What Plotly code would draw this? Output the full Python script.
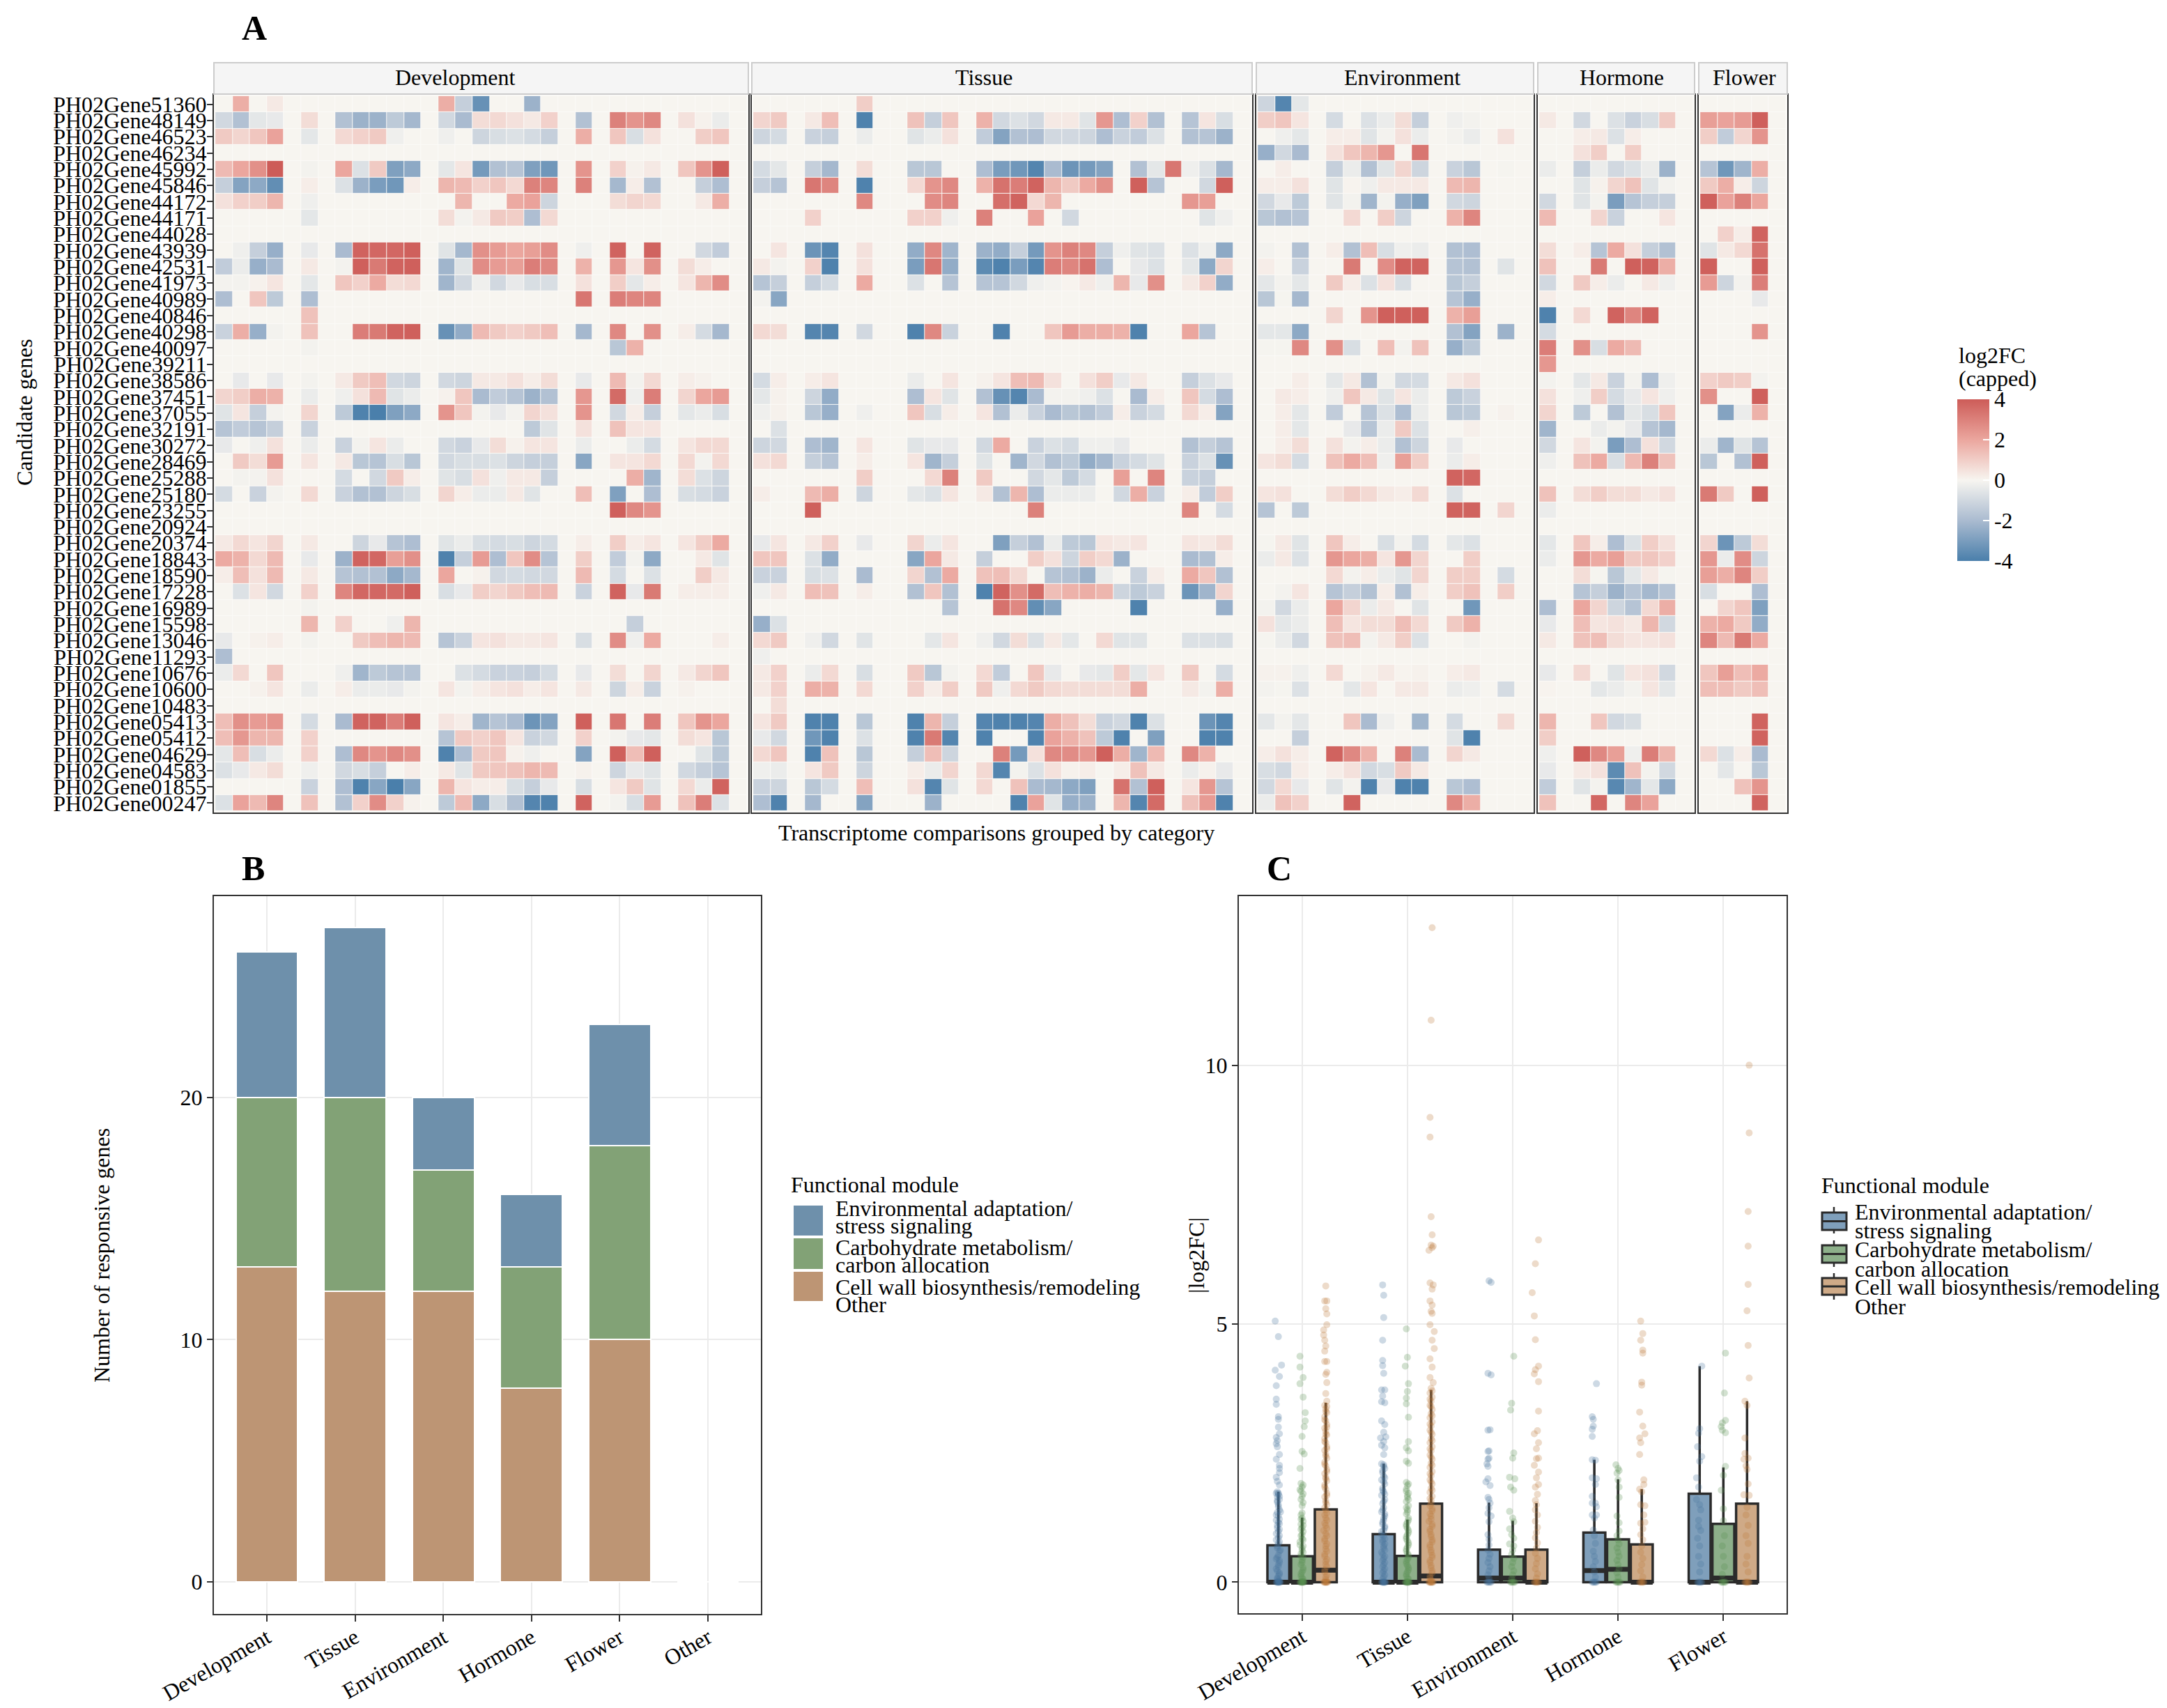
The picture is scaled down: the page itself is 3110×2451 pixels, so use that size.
import plotly.graph_objects as go

W = 3110
H = 2451
FONT = "Liberation Serif"

genes = ["PH02Gene51360", "PH02Gene48149", "PH02Gene46523", "PH02Gene46234", "PH02Gene45992", "PH02Gene45846",
         "PH02Gene44172", "PH02Gene44171", "PH02Gene44028", "PH02Gene43939", "PH02Gene42531", "PH02Gene41973",
         "PH02Gene40989", "PH02Gene40846", "PH02Gene40298", "PH02Gene40097", "PH02Gene39211", "PH02Gene38586",
         "PH02Gene37451", "PH02Gene37055", "PH02Gene32191", "PH02Gene30272", "PH02Gene28469", "PH02Gene25288",
         "PH02Gene25180", "PH02Gene23255", "PH02Gene20924", "PH02Gene20374", "PH02Gene18843", "PH02Gene18590",
         "PH02Gene17228", "PH02Gene16989", "PH02Gene15598", "PH02Gene13046", "PH02Gene11293", "PH02Gene10676",
         "PH02Gene10600", "PH02Gene10483", "PH02Gene05413", "PH02Gene05412", "PH02Gene04629", "PH02Gene04583",
         "PH02Gene01855", "PH02Gene00247"]

# log2FC per gene, only the non zero comparisons: {column: value}
development = [
    {1:1.8,3:.3,13:1.8,14:-1.3,15:-3.4,18:-2.3},
    {0:-1,1:-1.8,2:-.5,3:-.4,5:.6,7:-1.8,8:-2.3,9:-2.3,10:-1.5,11:-2.1,13:-1,14:-2,15:.6,16:.7,17:.5,18:.3,19:.9,21:-1.8,23:3,24:2.5,25:2.8,27:.5,28:.1,29:-.3},
    {0:1.1,1:.8,2:1.2,3:2.1,5:-.5,7:.7,8:.9,9:1.1,10:-.2,13:-.2,15:-1.1,16:-.8,17:-.7,18:-.9,19:-1.3,21:1.8,23:1.2,24:-.8,25:.5,28:1,29:1.2},
    {},
    {0:1.5,1:2,2:2.6,3:4,5:-.1,7:2,8:-.7,9:1.1,10:-2.9,11:-2.6,13:-.5,14:.4,15:-3.1,16:-1.8,17:-1.7,18:-2.9,19:-3.2,21:2.5,23:.9,24:.1,25:.3,27:1.2,28:2.5,29:3.9},
    {0:-1.3,1:-2.8,2:-2.6,3:-3.5,5:.2,7:-.7,8:-2.3,9:-3,10:-3.2,11:.2,13:1.6,14:1.5,15:.9,16:1.2,17:.7,18:3,19:2.9,21:3,23:-2.1,24:.2,25:-1.8,28:-1.3,29:-1.9},
    {0:.5,1:.9,2:1,3:1.6,5:-.2,14:1.6,17:1.9,18:2.1,19:-1.1,23:.6,24:.8,25:.7,28:.3,29:1.8},
    {5:-.5,13:.6,14:-.1,15:.3,16:1.1,17:1,18:-1.9,19:.7},
    {},
    {1:-.2,2:-1.3,3:-2.4,5:-.4,7:-2,8:3.8,9:3.7,10:3.7,11:3.9,13:-.6,14:-2.1,15:2.6,16:2.3,17:2,18:2.2,19:2.7,21:-.2,23:3.8,25:3.8,28:-1,29:-1.4},
    {0:-1.4,1:-.3,2:-2.4,3:-2,5:.3,7:-.1,8:3.9,9:3.2,10:3.8,11:3.9,13:-2.2,14:-.6,15:2.7,16:2.3,17:2.2,18:3.1,19:2.8,21:1.7,23:2.4,24:.4,25:2.6,27:.6,28:.2},
    {0:-.1,1:-.1,2:.1,3:.4,5:-.5,7:1.2,8:.9,9:1.9,10:.6,11:.7,13:-2.2,14:-1,15:-.2,16:-1,17:-.4,18:-.8,19:-.8,21:.5,23:1,24:-.5,25:.2,27:.4,28:1.6,29:2.7},
    {0:-1.9,2:1.2,3:-1.5,5:-1.9,21:3.3,23:3.1,24:2.9,25:2.9},
    {5:1.3},
    {0:-1.2,1:1.8,2:-2.4,3:-.1,5:1.3,8:3.1,9:3.2,10:3.8,11:3.9,13:-3.4,14:-2.5,15:1.5,16:1.1,17:.9,18:1.1,19:1.4,21:-2.1,23:2.8,25:2.6,27:.2,28:-.9,29:-2.1},
    {5:-.1,23:-1.6,24:1.7},
    {},
    {1:-.4,3:-.4,5:-.1,7:.3,8:1.1,9:1.4,10:-1,11:-1.1,13:-1,14:-1.1,15:.3,16:.3,17:.5,18:.2,19:.6,21:-.4,23:1.5,24:-.1,25:.7,27:.2,28:.1},
    {0:.8,1:1,2:1.8,3:1.7,5:-.3,7:-.2,8:.5,9:1.5,10:-.6,11:-.3,13:.1,14:1.2,15:-2,16:-1.4,17:-1.7,18:-2.3,19:-1.8,21:2.4,23:3.6,24:-.2,25:3.1,27:.8,28:2,29:2.3},
    {0:-.6,1:.4,2:-1.3,3:-.1,5:.8,7:-1.5,8:-3.9,9:-4,10:-2.9,11:-2.6,13:2.5,14:1.2,15:-.1,16:-.4,17:-.1,18:.8,19:.5,21:2.5,23:-1,24:.2,25:-1.3,27:-.5,28:-.3,29:-.8},
    {0:-1.7,1:-1.4,2:-1.7,3:-1.3,5:-1.2,18:-1.5,19:-.6,21:.5,23:1.3,24:.4,25:.4},
    {0:-.4,2:-.2,3:.5,5:-.3,7:-1.2,8:-.1,9:.4,10:-.3,13:-1,14:-1.2,15:-.4,16:.6,17:.1,18:.4,19:.4,21:-.3,24:-.3,25:-.9,27:.4,28:.7,29:.7},
    {1:1.1,2:.6,3:2.3,5:.4,7:.3,8:-1.6,9:-1.7,10:-.8,11:-1.6,13:-1,14:-.8,15:-.8,16:-.7,17:-1.1,18:-1.3,19:-1.3,21:-2.7,23:.4,24:.4,25:.7,27:.7,28:-.1,29:.7},
    {1:-.1,2:-.1,3:.5,7:-.9,9:-1,10:1.1,11:.2,13:-.6,14:-.8,15:.5,16:-.2,17:.3,18:.3,19:-1.3,24:1.8,25:-2.2,27:.6,28:-.7,29:-1.1},
    {0:-.9,2:-1.2,3:-.1,5:.7,7:-1.2,8:-1.8,9:-1.8,10:-1.1,11:-.8,13:.8,14:.2,15:-.3,16:-.3,17:.3,18:-.6,21:1.4,23:-2.9,25:-1.9,27:-.8,28:-.9,29:-1.2},
    {23:3.9,24:2.8,25:2.5},
    {},
    {0:.3,1:.7,2:.4,3:.8,5:.3,8:-1.1,9:-.4,10:-1.7,11:-1.9,13:-.6,14:-.3,15:-.8,16:-.9,17:-.8,18:-1.1,19:-.9,21:.2,23:1,24:.2,25:.4,27:.4,28:1,29:1.9},
    {0:1.9,1:1.7,2:.7,3:1.5,5:-.4,7:-2.3,8:3.8,9:3.7,10:2.2,11:2.6,13:-3.9,14:-1.3,15:2.3,16:-1.9,17:1.2,18:2.7,19:-1.7,21:1,23:-1.4,24:-.1,25:-2.6,28:.3,29:-.6},
    {0:.2,1:1.4,2:.5,3:1.5,5:.3,7:-1.7,8:-1.8,9:-1.8,10:-2.6,11:-2.1,13:2,15:.1,16:-1,17:-.9,18:-1,19:-1,21:1.5,23:-.9,25:-.7,28:1,29:.3},
    {1:-.7,2:.4,3:-1,5:.9,7:2.9,8:3.7,9:3.7,10:3.6,11:3.9,13:-.8,14:-.4,15:1,16:.8,17:1.1,18:1.4,19:1.5,21:-1.2,23:3.8,24:-.4,25:3.2,27:.2,28:.2,29:.2},
    {5:-.1},
    {5:1.6,7:.9,10:-.2,11:1.6,24:-1.3},
    {0:-.4,2:.1,3:.2,5:-.1,8:1.1,9:1.4,10:1.6,11:1.5,13:-1.7,14:-1.2,15:.4,16:.5,17:.3,18:.3,19:.4,21:-.8,23:2.7,24:-.2,25:1.9,29:.2},
    {0:-1.9},
    {0:-.3,1:.7,3:1.2,7:-.2,8:-2.2,9:-1.5,10:-1.7,11:-1.7,14:-.7,15:-.9,16:-1.2,17:-1.2,18:-1.3,19:-.9,21:-.4,23:.6,25:.8,27:.3,28:.8,29:1.2},
    {2:.1,3:.4,5:-.3,7:.2,8:-.3,9:-.3,10:-.4,11:-.1,13:.4,14:-.1,15:.2,16:.4,17:.5,18:.2,19:.4,21:.3,23:-1.1,24:.2,25:-1.2,27:.1},
    {},
    {0:1.4,1:2.6,2:2.3,3:2.5,5:-.9,7:-2,8:3.8,9:3.8,10:3.1,11:3.9,13:.4,14:.2,15:-2.2,16:-1.7,17:-2,18:-3.3,19:-2.8,21:3.9,23:3.3,25:3.1,27:1.2,28:2.5,29:2},
    {0:1.4,1:2.4,2:1.6,3:1.6,5:.9,13:-1.7,14:1.1,15:.9,16:1.2,17:.4,18:-1.2,19:-1,21:.9,23:-.1,24:-.4,25:-.5,27:.6,28:.4,29:-1.6},
    {0:-.5,1:1.4,2:-.8,3:-.3,5:.9,7:-1.9,8:2.8,9:2.5,10:2.8,11:2.6,13:-3.9,14:-1.9,15:1.1,16:1.2,17:.1,18:-.2,21:-2.8,23:3.9,24:1.4,25:3.9,28:-.6,29:-1.6},
    {0:-.7,1:-.4,2:.3,3:.6,5:-.2,7:-1,8:-.8,9:-1.3,11:.2,13:.3,14:-.6,15:1.1,16:1.2,17:1.3,18:1.6,19:1.5,21:.1,23:-1.1,24:-.4,25:-.6,27:-1,28:-1.3,29:-1.7},
    {5:-1.2,7:-1.9,8:-3.9,9:-2.7,10:-4,11:-2.7,13:1.6,14:.4,15:.2,16:.2,17:-.8,18:-1.3,19:-.4,21:-.8,23:.4,24:1.1,25:-.6,27:.7,28:-.3,29:3.8},
    {0:-.7,1:2.1,2:1.5,3:2.9,5:1.3,7:-1.8,8:.9,9:2.7,10:.9,11:.1,13:-1.5,14:1.5,15:-2.6,16:-.8,17:-1.8,18:-3.8,19:-3.9,21:3.8,23:-.1,24:-.8,25:2.3,27:1.3,28:3.1,29:-.7},
]

tissue = [
    {6:1},
    {0:.8,1:1.1,3:.3,4:1.4,6:-3.9,9:1.3,10:-1.3,11:1.2,13:1.7,14:-1,15:-.7,16:-1,17:.3,18:.3,19:-.6,20:2.4,21:-1.9,22:.9,23:-1.8,25:-1.7,26:.4,27:-.8},
    {0:-1.1,1:-.9,3:-1.2,4:-1.3,6:-.3,9:-.6,10:-.3,11:.5,13:-1.4,14:-2.8,15:-1.8,16:-1.9,17:-1,18:-1,19:-1.1,20:-1.9,21:-1.2,22:-1.4,23:-.7,25:-1.8,26:-1.7,27:-2.3},
    {},
    {0:-.9,1:-.5,3:-1.3,4:-2.1,6:.6,9:-1.6,10:-1.6,13:-1.9,14:-3,15:-3.2,16:-3.8,17:-2,18:-3.3,19:-3.1,20:-2.8,22:-1.8,23:-.5,24:3.3,25:-.2,26:-.7,27:-2.1},
    {0:-1.3,1:-1.7,3:3.3,4:2.9,6:-3.9,9:.7,10:2.5,11:2.8,13:1.7,14:3.4,15:3.1,16:3.8,17:1.6,18:1.1,19:1.9,20:2.6,22:3.9,23:-1.7,26:-1,27:3.9},
    {6:2.8,10:2.7,11:2.9,14:3.5,15:3.8,16:.7,17:1.6,25:2.4,26:2.2},
    {3:.9,9:.9,10:.9,11:-.2,13:3,16:2.1,18:-1,26:-.6,27:-.2},
    {},
    {1:.4,3:-3.3,4:-3.8,6:.5,9:-2.5,10:2.8,11:-2.2,13:-2.3,14:-2.5,15:-1.3,16:-3.1,17:2.5,18:3,19:2.8,20:-1.3,21:-.2,22:-.6,23:-.7,25:-.7,26:-.2,27:-2.6},
    {0:.3,1:-.1,3:.9,4:-3.9,6:.5,9:-3,10:3.3,11:-2.5,13:-3.6,14:-3.9,15:-3,16:-3.8,17:3.1,18:2.9,19:3.4,20:-1.9,22:-.4,23:-.7,25:-.5,26:-2.6,27:.8},
    {0:-1.7,1:-1.3,3:-1.3,4:-.9,6:1.9,9:-.7,11:-1.7,13:-1.7,14:-1.7,15:-1,16:-.2,17:-.1,18:.05,19:.3,20:-.2,21:1.6,22:-.4,23:2.6,25:.3,26:.9,27:-2.5},
    {0:-.1,1:-2.7},
    {},
    {0:.7,1:.6,3:-3.8,4:-3.8,6:-1,9:-3.9,10:2.8,11:-1.2,14:-3.9,17:1.2,18:2.3,19:1.8,20:1.8,21:1.7,22:-3.9,25:2,26:-1.7},
    {},
    {},
    {0:-.9,1:.2,3:.2,4:.4,9:-.3,11:.4,13:.1,14:.4,15:1.4,16:1.5,17:.5,19:.5,20:1,21:-.4,22:.3,25:-1.3,26:-.7,27:-.4},
    {0:-.5,1:.1,3:-1.1,4:-2.5,9:-1.9,10:.4,11:-.6,13:-1.8,14:-3.4,15:-3.8,16:-2,17:-.1,18:-.1,19:-.2,20:-.7,22:-2,23:.2,25:1.2,26:-.9,27:-1.9},
    {0:-.2,1:.1,3:-1.6,4:-2.4,6:-.2,9:1.2,10:-.8,11:.2,13:.4,14:-1.8,15:-.3,16:-1.2,17:-2,18:-1.6,19:-1.8,20:-1.4,21:.2,22:-1.2,23:-.9,25:.7,26:.2,27:-2.8},
    {1:-.7},
    {0:-1.1,1:-1,3:-1.9,4:-2.2,6:.4,9:-.6,10:-.4,11:-.4,13:-1,14:1.9,16:-1.2,17:-.7,18:-.9,19:-.2,20:-.2,21:-.4,25:-1.8,26:-1.3,27:-1.7},
    {0:.5,1:.7,3:-1.3,4:-1.7,6:.2,9:.4,10:-2.2,11:-1.3,13:-.6,15:-2.2,16:-1,17:-1.8,18:-1.5,19:-2.5,20:-2.1,21:-1.2,22:-.9,23:-.6,25:-1.2,26:-.7,27:-3.4},
    {6:1,10:.7,11:3,13:1.1,16:-1,17:-.5,18:-1.5,19:-.9,21:2.2,23:2.9,25:-1.2,26:-1.3},
    {0:.2,3:1.5,4:1.8,6:-1.1,9:-.5,10:-.7,11:.4,13:.3,14:-1.8,15:1.6,16:-1.9,17:-.3,18:-.3,19:-.3,21:-1,22:1.8,23:-1.2,25:.2,26:-1.4,27:1},
    {3:3.9,16:3,25:2.9,27:-.9},
    {},
    {0:-.4,1:.4,3:.3,4:.9,6:-.4,9:.8,10:-.3,11:.4,14:-2.9,15:-1.3,16:-1.8,17:-.3,18:-1.5,19:-1.6,20:.4,21:.3,22:.4,25:.4,26:.3,27:.6},
    {0:1.2,1:1.2,3:-.7,4:-2.5,9:-2.7,10:2,11:.3,13:-1.3,16:1,17:.5,18:-1.1,19:1,20:.7,21:-2.3,25:-2,26:-1.8,27:.2},
    {0:-1.2,1:-1.2,3:-.8,4:-.7,6:-2,9:.8,10:-1.8,11:1.9,13:1.3,14:1.4,15:.7,17:-1.7,18:-1.8,19:-2.3,20:-.3,22:-1.2,23:.2,25:1.9,26:1.2,27:-1.8},
    {0:-.2,1:.3,3:1.4,4:1.3,6:.2,9:-1.8,10:1.2,11:-1.8,13:-3.9,14:3.8,15:2.6,16:3.6,17:1.4,18:1.7,19:1.8,20:1.6,21:-1.1,22:-1.5,23:-1.2,25:-3.3,26:-2.2,27:.8},
    {11:-1.7,14:3.4,15:2.8,16:-3.5,17:-2.7,22:-3.9,27:-2.4},
    {0:-2.4,1:-.7},
    {0:.7,1:1.1,3:-.2,4:-1,6:-.6,10:-.5,11:.4,13:-.2,14:-1,15:.6,16:-.7,17:.3,18:-.5,20:.7,21:-.6,22:-.6,25:-.7,26:-.7,27:-.8},
    {0:-.2},
    {0:.3,1:.9,3:-.3,4:.7,6:-.8,9:1.1,10:-1.6,11:-.1,13:.7,14:-1.4,16:1.2,17:-.4,19:-.4,20:-.5,21:1,22:-.5,23:.4,25:1.1,27:-.9},
    {0:.3,1:.9,3:1.8,4:1.7,6:.7,9:.9,10:.2,11:1,13:1.1,14:-.2,15:.7,16:1.1,17:.7,18:.6,19:.6,20:.6,21:.6,22:1.8,25:.3,26:-.1,27:1.8},
    {1:.6},
    {0:.4,1:1.1,3:-3.9,4:-3.9,6:-1.6,9:-3.9,10:1.6,11:-1.3,13:-3.8,14:-3.9,15:-3.9,16:-3.8,17:1.8,18:1.3,19:.6,20:-1.2,21:-1,22:-3.9,23:-.7,26:-3.3,27:-3.8},
    {0:-.4,1:-1,3:-3.2,4:-3.9,6:-.7,9:-3.9,10:3.2,11:-3.8,13:-3.9,16:-3.9,17:2.1,18:1.7,19:1.3,20:-1.5,21:-3.9,23:-2.9,26:-3.9,27:-3.9},
    {0:.7,1:1.2,3:-3.9,4:1.3,6:-1.6,9:-1.3,10:1.4,11:-1.1,14:3,15:-3.1,16:.5,17:2.8,18:2.7,19:2.4,20:3.9,21:1.8,22:-2.2,23:1.5,25:2.8,26:1.7},
    {0:-.2,1:-.3,3:.4,4:1.1,6:-1.1,9:.2,10:-.3,11:.8,13:.7,14:-3.8,15:-.1,16:-.7,17:.5,18:.1,19:.2,21:.2,22:1.3,23:.3,25:-.3,26:.1,27:-.4},
    {0:-1.2,1:-1.1,3:-1.6,4:-.9,6:1.4,9:.5,10:-3.8,11:-.6,13:.7,15:1.3,16:-2,17:-2.1,18:-2.6,19:-2.9,21:3.4,22:-1.8,23:3.9,25:.4,26:2.4,27:-1.7},
    {0:-1.9,1:-3.9,3:-2.1,6:-2.8,10:-2.3,15:-3.9,16:2.1,17:-.6,18:-2.4,19:-2.3,21:1.6,22:-3.8,23:3.6,25:1.3,26:2.3,27:-3.9},
]

environment = [
    {0:-1.1,1:-3.8,2:-.5},
    {0:1,1:1.2,2:.4,4:-.9,6:-.7,7:-.3,8:.6,9:-1.3,11:-.2,12:-.1},
    {1:-.2,2:-.5,4:.2,5:.2,6:-.6,7:-.1,8:.5,9:-.3,11:-.1,12:-.3,14:.5},
    {0:-2.4,1:-1,2:-2,4:.5,5:1.2,6:1.6,7:2.4,9:3.3},
    {1:.2,4:-1.3,5:-.3,6:-1.8,7:-.6,8:.8,9:-1.1,11:-1.2,12:-1.6,14:-.05},
    {0:.2,1:.2,2:.5,4:-.6,5:.05,6:-.2,7:.3,8:.3,9:.3,11:1.5,12:1.6},
    {0:-1,1:-.4,2:-1.5,4:-.6,5:-.1,6:-2.2,7:-.1,8:-2.4,9:-2.9,11:-1,12:-1.1},
    {0:-1.6,1:-1.8,2:-1.7,5:.7,7:1,8:-1.1,11:1.7,12:2.9},
    {},
    {0:-.1,2:-1.8,4:.2,5:-1.8,6:1.4,7:-.8,8:-.2,9:-.3,11:-1.8,12:-1.9},
    {0:.2,2:-1.2,5:3.2,7:2.7,8:3.8,9:3.8,11:-1.7,12:-1.8,14:-.6},
    {0:-.5,1:-.1,2:-.5,4:1.1,5:.2,6:-.7,7:.5,8:-.8,11:-1.6,12:-1.3},
    {0:-1.6,1:-.05,2:-2.1,11:-1.7,12:-2.4},
    {4:.8,6:2.5,7:3.9,8:3.9,9:3.9,11:1.7,12:2.2},
    {0:-.5,1:-.5,2:-2.6,11:-1.8,12:-2.8,14:-2.3},
    {0:-.05,1:-.05,2:2.8,4:2.6,5:-.8,7:1.4,8:-.1,9:1.3,11:-2.4,12:-1.6},
    {},
    {2:.2,4:-.5,5:.3,6:-1.8,7:-.1,8:-1,9:-.9,11:.3,12:.5},
    {1:.3,2:.2,4:-.2,5:1.2,6:.3,7:-.6,8:.4,9:-.3,11:-1.5,12:-1.2},
    {1:.2,2:-.5,4:-1.4,6:-1.7,7:-.7,8:-1.9,9:-.3,11:-1.6,12:-1.5,14:.1},
    {1:.2,2:-.5,5:-.4,6:-1.7,7:-.3,8:1.1,9:-.7,12:.15},
    {1:.2,2:.6,4:.5,5:-.1,6:.2,7:-.3,8:-1.8,9:-1.1,11:-.4},
    {0:.4,1:.6,2:-.9,4:1.3,5:1.9,6:1.4,7:-.2,8:2.2,9:1,11:-.3,12:.2},
    {11:3.8,12:3.7},
    {0:.4,1:.5,4:.6,5:1,6:.7,7:.3,8:.2,9:.7,11:-.7},
    {0:-1.7,2:-1.5,11:3.8,12:3.8,14:.8},
    {},
    {0:-.05,1:.3,2:-.6,4:1.2,5:.2,7:-.8,8:-.1,9:-.9,11:-.5,12:-.7},
    {0:-.3,1:.3,2:-.7,4:2.4,5:2,6:1.8,7:.4,8:2.4,9:.8,12:1},
    {4:.7,5:-.1,6:.2,7:-.3,8:-.6,9:.8,11:1,12:1,14:-.9},
    {1:-.1,2:.4,4:-1.7,5:-1.3,6:-1.8,7:.2,8:-1.8,9:.2,11:1,12:1.3,14:1},
    {0:-.1,1:-1,2:-.3,4:2,5:.8,6:-.3,7:.3,9:-.6,12:-3.2},
    {0:.5,1:-.5,2:-.3,4:1.4,5:.4,6:.6,7:.6,8:1.4,9:.7,11:1.1,12:1.7},
    {0:-.05,1:-.3,2:-1,4:1.3,5:1.4,6:-.1,7:.3,8:1,9:-.7,12:-.1},
    {},
    {0:.1,1:.1,2:-.2,4:.7,6:.1,7:.3,8:.05,9:.1,11:.2,12:.3},
    {0:-.1,1:-.05,2:-.7,5:-.5,6:.4,8:.3,9:.3,11:-.3,12:-.2,14:-.9},
    {},
    {0:-.5,1:-.1,2:-.5,5:1.2,6:-2,7:-.2,9:-2.2,11:-.9,14:.7},
    {2:-1.3,11:-.6,12:-3.9},
    {0:.2,1:.5,2:.2,4:3.8,5:2.8,6:1.7,8:3,9:-2,11:.8,12:.3},
    {0:-.8,1:-1,2:.2,4:.2,5:.5,6:-1,7:-.8,8:1.1,9:.3},
    {0:-1,1:.7,2:-.4,4:-.6,5:-.1,6:-3.9,7:-.4,8:-3.9,9:-3.9,11:-1.6,12:-1.9},
    {0:-.3,1:1.3,2:.9,5:3.8,11:2.8,12:1.8},
]

hormone = [
    {},
    {0:.3,2:-1,4:-.7,5:-1.2,6:-.8,7:1.1},
    {2:.2,3:.3,4:-.7,5:.2},
    {2:.5,3:1,5:1},
    {0:-.3,2:-1.3,3:-.3,4:-1,5:-.7,6:-.3,7:-2.3},
    {2:-.6,3:.1,4:.8,5:1.3,6:-.6,7:-.1},
    {0:-1,2:-.6,3:-.1,4:-3,5:-1.7,6:-1.3,7:-1.3},
    {0:1.5,3:.8,4:-1.2,7:.4},
    {},
    {0:.6,2:.2,3:-1.7,4:1.9,5:.5,6:-1.3,7:-1.8},
    {0:1.3,3:3.2,5:3.9,6:3.8,7:1.8},
    {0:-1,2:1.1,3:.2,4:-.3,6:.3,7:-.2},
    {0:.2},
    {0:-3.9,2:.7,4:3.8,5:2.9,6:3.8},
    {0:-.9},
    {0:3.1,2:2.6,3:-.8,4:1.9,5:1.5},
    {0:2.4},
    {0:-.1,2:-.5,3:.3,4:-1.2,5:-.1,6:-1.9,7:-.2},
    {0:.5,2:-.2,3:1,4:-.9,5:-.4,6:.4,7:-.2},
    {0:.8,2:-1.5,4:-1.8,5:-.5,6:-.8,7:1.2},
    {0:-2.2,3:-.3,4:-.1,5:-.4,6:-1.7,7:-2.1},
    {0:-1,2:.4,3:-.1,4:-3,5:-1.9,6:.5,7:-1},
    {0:-.2,2:1.3,3:1.9,4:-.8,5:1.5,6:3,7:1.3},
    {},
    {0:1.3,2:.6,3:1,4:.6,5:.6,6:.3,7:.5},
    {0:-.3},
    {},
    {0:-.5,2:1.2,3:.2,4:-1.9,5:-.7,6:1,7:.5},
    {0:-.3,2:2.4,3:1.9,4:2.2,5:1.1,6:1.2,7:.9},
    {2:.6,3:-.05,4:-1.6,5:-.5,6:.3,7:-.05},
    {2:-1.7,3:-1.3,4:-2.3,5:-1.7,6:-2.1,7:-1.7},
    {0:-1.9,2:2,3:.8,4:-1.1,5:-1.7,6:.7,7:1.8},
    {0:-.4,2:1.4,3:.4,4:.5,5:.3,6:1.6,7:-1},
    {0:.3,2:1.3,3:1.4,4:.6,5:.4,6:.4,7:.5},
    {},
    {0:-.4,2:.7,4:-.6,5:.4,6:.5,7:-1},
    {0:.05,3:-.5,4:-.3,5:-.1,6:.4,7:-.5},
    {},
    {0:1.6,3:1.2,4:-1,5:-.8},
    {0:1},
    {0:-.2,2:3.9,3:2.8,4:2.2,5:-.2,6:3.1,7:1.6},
    {0:-.4,2:.3,3:.5,4:-3.6,5:1.3,6:-.1,7:-1},
    {0:-1.4,2:-.6,3:-.1,4:-3.7,5:-2.2,6:-.5,7:-2.6},
    {0:1.3,3:3.7,5:2.9,6:2.1},
]

flower = [
    {},
    {0:2.2,1:2.1,2:2.3,3:3.9},
    {0:1,1:-1.4,2:.8,3:2.5},
    {},
    {0:-1.7,1:-3.2,2:-2.2,3:1.8},
    {0:1.1,1:1.8,2:.2,3:-1.1},
    {0:3.9,1:2.1,2:3,3:2},
    {},
    {1:.9,2:.2,3:3.8},
    {0:-.6,1:.3,2:.7,3:3.4},
    {0:3.9,3:3.9},
    {0:2.3,1:-1.1,2:-.1,3:3.1},
    {3:-.4},
    {},
    {3:2.5},
    {},
    {},
    {0:.9,1:1.1,2:1,3:-.1},
    {0:2.6,3:3.9},
    {1:-2.8,2:-.3,3:1.7},
    {},
    {0:-.3,1:-2.2,2:-.6,3:-1.7},
    {0:-1.6,2:-1.8,3:3.9},
    {},
    {0:3.2,1:1.1,3:3.9},
    {},
    {},
    {0:.8,1:-3.3,2:-1.5,3:.6},
    {0:2.4,1:-.3,2:2.7,3:-1.1},
    {0:2.2,1:1.8,2:2.9,3:1},
    {0:-.8,3:-1.9},
    {1:.8,2:1.2,3:-2.9},
    {0:1.7,1:1.9,2:1.1,3:-2.5},
    {0:2.9,1:1.5,2:3.2,3:1.9},
    {},
    {0:1.2,1:2.2,2:1.4,3:1.9},
    {0:1.4,1:1.4,2:1.1,3:1.4},
    {},
    {3:3.8},
    {3:3.8},
    {0:.7,1:-.7,2:.2,3:-2},
    {1:-.5,3:-1.6},
    {2:1.3,3:2.5},
    {3:3.8},
]

panel_names = ["Development", "Tissue", "Environment", "Hormone", "Flower"]
panel_cols = [31, 29, 16, 9, 5]
panel_cells = [development, tissue, environment, hormone, flower]
panel_x = [(307, 1074), (1079, 1797), (1803, 2201), (2207, 2432), (2438, 2565)]
strip_label_x = [653, 1412, 2012, 2327, 2503]

# panel B counts
bar_categories = ["Development", "Tissue", "Environment", "Hormone", "Flower", "Other"]
bar_wall = [13, 12, 12, 8, 10, 0]
bar_carb = [7, 8, 5, 5, 8, 0]
bar_env = [6, 7, 3, 3, 5, 0]

# panel C box stats, order env / carb / wall inside each category
box_categories = ["Development", "Tissue", "Environment", "Hormone", "Flower"]
q3_env = [.715, .93, .63, .96, 1.71]
q3_carb = [.503, .51, .494, .83, 1.13]
q3_wall = [1.407, 1.52, .63, .73, 1.52]
med_env = [0, 0, .08, .225, 0]
med_carb = [0, 0, .08, .25, .08]
med_wall = [.234, .12, 0, 0, 0]
up_env = [1.75, 2.29, 1.54, 2.37, 4.18]
up_carb = [1.25, 1.21, 1.19, 1.99, 2.22]
up_wall = [3.47, 3.72, 1.53, 1.80, 3.5]

# panel C points: (jitter in 1/100 of a category, |log2FC|)
pts_dev_env = [(-3,5.05),(0,4.75),(3,4.2),(-3,4.1),(1,3.98),(-2,3.8),(-2,3.54),(-2,3.44),(0,3.2),(0,3.15),(0,3.0),(1,2.87),(-2,2.8),(-1,2.74),(-2,2.68),(-1,2.62),(1,2.47),(-2,2.38),(1,2.26),(1,2.2),(1,2.12),(-2,2.03),(-1,1.95),(1,1.88),(-1,1.75),(-2,1.72),(0,1.7),(-1,1.65),(1,1.6),(-1,1.55),(0,1.5),(1,1.4),(-1,1.35),(0,1.28),(-2,1.2),(1,1.13),(-1,1.05),(0,.98),(1,.9),(-2,.82),(0,.75),(-1,.66),(1,.6),(0,.52),(-2,.45),(1,.38),(0,.3),(-1,.22),(1,.15),(-1,.08),(0,.04),(-2,0),(-1,0),(0,0),(1,0),(2,0),
               (0,1.72),(1,1.66),(-1,1.58),(0,1.46),(2,1.36),(-2,1.3),(1,1.22),(0,1.16),(-1,1.1),(1,1.02),(-2,.94),(0,.86),(1,.78),(-1,.7),(2,.62),(-1,.48),(1,.42),(0,.34),(-2,.26),(1,.18),(0,.12),(-1,.06),(1,.02),(0,0),(-1,0),(1,0)]
pts_dev_carb = [(-2,4.37),(-2,4.16),(1,3.96),(-2,3.84),(1,3.58),(3,3.28),(3,3.12),(2,3.01),(0,2.82),(0,2.53),(2,2.48),(-2,2.2),(-1,1.91),(0,1.84),(-2,1.79),(1,1.71),(-1,1.6),(0,1.48),(-1,1.3),(0,1.24),(1,1.18),(-1,1.12),(0,1.05),(1,.98),(-1,.9),(0,.84),(-2,.78),(1,.7),(0,.62),(-1,.55),(1,.48),(0,.42),(-1,.34),(1,.28),(0,.2),(-1,.12),(1,.06),(-2,0),(-1,0),(0,0),(1,0),(2,0),
                (1,1.88),(-1,1.76),(0,1.66),(1,1.54),(0,1.34),(-1,1.22),(1,1.1),(-1,1.02),(0,.92),(1,.82),(-2,.72),(0,.66),(1,.58),(-1,.5),(0,.38),(1,.24),(-1,.16),(0,.08),(1,.02),(0,0),(-1,0),(1,0)]
pts_dev_wall = [(0,5.73),(-1,5.44),(1,5.44),(0,5.29),(1,5.19),(1,4.98),(-2,4.88),(-2,4.78),(-1,4.68),(0,4.57),(-1,4.47),(1,4.27),(-1,4.27),(1,4.06),(0,4.02),(1,3.86),(0,3.65),(1,3.5),(-1,3.42),(0,3.35),(1,3.28),(-1,3.2),(0,3.12),(1,3.05),(-1,2.98),(0,2.92),(1,2.85),(-1,2.78),(0,2.7),(1,2.62),(-1,2.55),(0,2.48),(1,2.4),(-1,2.32),(0,2.25),(1,2.18),(-1,2.1),(0,2.03),(1,1.96),(-1,1.88),(0,1.8),(1,1.72),(-1,1.65),(0,1.58),(1,1.5),(0,1.4),(-1,1.3),(1,1.2),(0,1.1),(-2,1),(1,.9),(-1,.8),(0,.7),(1,.6),(-1,.5),(0,.4),(1,.3),(-1,.2),(0,.1),(-2,0),(-1,0),(0,0),(1,0),(2,0),
                (1,3.4),(0,3.3),(-1,3.14),(1,3),(0,2.86),(-1,2.72),(1,2.58),(0,2.44),(-1,2.28),(1,2.14),(0,2),(-1,1.84),(1,1.68),(0,1.54),(-1,1.44),(1,1.34),(0,1.24),(-1,1.14),(1,1.04),(0,.94),(-1,.84),(1,.74),(0,.64),(-1,.54),(1,.44),(0,.34),(-1,.24),(1,.14),(0,.05),(0,0),(-1,0),(1,0)]
pts_tis_env = [(-1,5.75),(0,5.55),(0,5.12),(-1,4.68),(-1,4.29),(-1,4.19),(0,4.04),(-2,3.72),(1,3.72),(-1,3.6),(-2,3.49),(1,3.47),(-2,3.12),(1,3.05),(0,2.9),(-3,2.79),(2,2.81),(0,2.72),(-2,2.65),(1,2.6),(0,2.47),(-2,2.29),(0,2.27),(1,2.2),(-1,2.12),(0,2.05),(-2,1.98),(1,1.9),(-1,1.82),(0,1.75),(-2,1.68),(1,1.6),(-1,1.52),(0,1.44),(-2,1.36),(1,1.28),(0,1.2),(-1,1.12),(1,1.05),(-2,.98),(0,.9),(-1,.82),(1,.74),(0,.66),(-2,.58),(1,.5),(-1,.42),(0,.34),(1,.26),(-1,.18),(0,.1),(-2,0),(-1,0),(0,0),(1,0),(2,0),
               (0,2.24),(-1,2.16),(1,2.02),(0,1.94),(-1,1.78),(1,1.7),(0,1.56),(-1,1.4),(1,1.32),(0,1.24),(-1,1.16),(1,1.08),(0,1),(-2,.92),(1,.84),(-1,.78),(0,.7),(1,.62),(-1,.54),(0,.46),(1,.38),(-1,.3),(0,.22),(1,.14),(-1,.06),(0,0),(-1,0),(1,0)]
pts_tis_carb = [(-1,4.9),(0,4.35),(-2,4.18),(1,3.84),(0,3.69),(-1,3.56),(-1,3.45),(1,3.19),(1,2.72),(-1,2.6),(1,2.54),(-1,2.34),(1,2.3),(-1,1.93),(0,1.87),(-1,1.8),(1,1.72),(0,1.64),(-1,1.56),(1,1.48),(0,1.4),(-1,1.32),(1,1.24),(0,1.16),(-1,1.08),(1,1),(0,.92),(-1,.84),(1,.76),(0,.68),(-1,.6),(1,.52),(0,.44),(-1,.36),(1,.28),(0,.2),(-1,.12),(1,.06),(-2,0),(-1,0),(0,0),(1,0),(2,0),
                (1,1.9),(-1,1.76),(0,1.68),(1,1.6),(-1,1.44),(0,1.36),(1,1.2),(-1,1.12),(0,1.04),(1,.96),(-1,.88),(0,.8),(1,.72),(-1,.64),(0,.56),(1,.48),(-1,.4),(0,.32),(1,.24),(-1,.16),(0,.08),(0,0),(-1,0),(1,0)]
pts_tis_wall = [(1,12.66),(0,10.87),(-1,8.99),(-1,8.61),(0,7.07),(1,6.72),(0,6.52),(2,6.5),(-2,6.42),(1,6.47),(-1,5.79),(2,5.75),(1,5.67),(-1,5.44),(1,5.36),(0,5.24),(1,5.2),(-1,4.98),(3,4.85),(1,4.68),(3,4.52),(-1,4.32),(1,4.16),(-1,3.96),(2,3.86),(0,3.75),(-1,3.66),(1,3.58),(0,3.5),(-1,3.42),(1,3.34),(0,3.26),(-1,3.18),(1,3.1),(0,3.02),(-1,2.94),(1,2.86),(0,2.78),(-1,2.7),(1,2.62),(0,2.54),(-1,2.46),(1,2.38),(0,2.3),(-1,2.22),(1,2.14),(0,2.06),(-1,1.98),(1,1.9),(0,1.82),(-1,1.74),(1,1.66),(0,1.58),(-1,1.48),(1,1.38),(0,1.28),(-2,1.18),(1,1.08),(-1,.98),(0,.88),(1,.78),(-1,.68),(0,.58),(1,.48),(-1,.38),(0,.28),(1,.18),(-1,.08),(-2,0),(-1,0),(0,0),(1,0),(2,0),
                (1,3.7),(-1,3.54),(0,3.4),(1,3.22),(-1,3.06),(0,2.9),(1,2.74),(-1,2.58),(0,2.42),(1,2.26),(-1,2.1),(0,1.94),(1,1.78),(-1,1.62),(0,1.52),(1,1.42),(-1,1.32),(0,1.22),(1,1.12),(-1,1.02),(0,.92),(1,.82),(-1,.72),(0,.62),(1,.52),(-1,.42),(0,.32),(1,.22),(-1,.12),(0,.04),(0,0),(-1,0),(1,0)]
pts_env_env = [(0,5.83),(2,5.8),(-1,4.04),(2,4.01),(-1,2.94),(1,2.95),(-1,2.53),(0,2.54),(-1,2.38),(0,2.4),(-2,2.29),(-1,2.24),(-1,2),(-3,1.94),(1,1.87),(-1,1.64),(0,1.6),(1,1.53),(0,1.44),(-1,1.33),(2,1.28),(0,1.17),(-1,.92),(0,.83),(0,.72),(-1,.62),(1,.54),(0,.46),(-1,.38),(1,.3),(0,.22),(-1,.14),(0,.08),(-2,0),(-1,0),(0,0),(1,0),(2,0)]
pts_env_carb = [(1,4.37),(-1,3.46),(-2,3.33),(1,2.5),(0,2.4),(-3,2.03),(2,2),(-2,1.84),(1,1.78),(-3,1.37),(0,1.24),(1,1.17),(-3,1.03),(-1,.92),(1,.85),(-3,.74),(1,.7),(0,.62),(-1,.54),(1,.46),(0,.38),(-1,.3),(1,.22),(0,.14),(-1,.07),(-2,0),(-1,0),(0,0),(1,0),(2,0)]
pts_env_wall = [(2,6.62),(-1,6.16),(-4,5.6),(-2,5.15),(-1,4.69),(2,4.18),(-1,4.11),(-2,4.03),(2,3.88),(2,3.31),(1,2.93),(-2,2.87),(2,2.7),(0,2.58),(0,2.39),(2,2.4),(-2,2.26),(2,2.13),(0,2.02),(2,1.89),(-1,1.84),(1,1.7),(-1,1.58),(0,1.5),(-1,1.4),(1,1.3),(-1,1.18),(1,1.06),(0,.96),(-1,.86),(1,.76),(0,.66),(-1,.56),(1,.46),(0,.36),(-1,.26),(1,.16),(0,.08),(-2,0),(-1,0),(0,0),(1,0),(2,0)]
pts_hor_env = [(2,3.84),(-2,3.2),(-1,3.15),(-1,3.02),(-2,2.96),(-2,2.82),(-2,2.37),(1,2.36),(-2,2.02),(2,2),(1,1.89),(-2,1.66),(1,1.53),(-2,1.53),(2,1.46),(-2,1.3),(2,1.3),(0,1.24),(-1,1.01),(0,.9),(1,.75),(-1,.6),(0,.5),(1,.4),(-1,.3),(0,.2),(1,.1),(-2,0),(-1,0),(0,0),(1,0),(2,0)]
pts_hor_carb = [(-2,2.27),(0,2.2),(-1,2.11),(1,2.16),(0,1.98),(1,1.84),(1,1.64),(-1,1.28),(1,1.15),(1,.99),(-1,.9),(0,.82),(1,.74),(-1,.66),(0,.58),(1,.5),(-1,.42),(0,.34),(1,.26),(-1,.18),(0,.1),(-2,0),(-1,0),(0,0),(1,0),(2,0)]
pts_hor_wall = [(-1,5.05),(1,4.81),(-1,4.68),(1,4.49),(1,4.43),(0,3.87),(0,3.81),(-2,3.29),(1,3.02),(3,2.87),(-2,2.79),(-1,2.7),(-2,2.47),(2,1.98),(2,1.89),(-2,1.8),(0,1.75),(-1,1.5),(3,1.48),(2,1.3),(-1,1.14),(3,1.16),(1,1.03),(-1,.92),(1,.82),(0,.7),(-1,.58),(1,.46),(0,.34),(-1,.22),(1,.1),(-2,0),(-1,0),(0,0),(1,0),(2,0)]
pts_flo_env = [(2,4.18),(0,2.97),(-1,2.88),(-2,2.62),(2,2.43),(0,2.34),(-3,2.02),(-1,1.84),(-3,1.6),(0,1.5),(1,1.4),(-1,1.2),(-1,1.08),(1,1),(-2,.85),(0,.7),(-1,.5),(1,.35),(0,.2),(-2,0),(-1,0),(0,0),(1,0),(2,0)]
pts_flo_carb = [(2,4.43),(1,3.66),(2,3.13),(-1,3.08),(-2,3.01),(-1,2.94),(2,2.89),(2,2.24),(0,2.07),(-2,1.78),(0,1.42),(0,1.19),(1,.9),(-1,.7),(0,.5),(1,.3),(-1,.15),(-2,0),(-1,0),(0,0),(1,0),(2,0)]
pts_flo_wall = [(2,10),(2,8.69),(1,7.17),(1,6.5),(1,5.76),(0,5.25),(1,4.58),(2,3.95),(-2,3.5),(0,3.42),(-2,2.79),(-2,2.49),(1,2.4),(-3,2.38),(-1,2.25),(0,2.18),(1,1.9),(2,1.68),(-3,1.69),(0,1.45),(-1,1.3),(1,1.1),(-1,.9),(1,.75),(0,.5),(-1,.35),(1,.2),(-2,0),(-1,0),(0,0),(1,0),(2,0)]

pts_env = [pts_dev_env, pts_tis_env, pts_env_env, pts_hor_env, pts_flo_env]
pts_carb = [pts_dev_carb, pts_tis_carb, pts_env_carb, pts_hor_carb, pts_flo_carb]
pts_wall = [pts_dev_wall, pts_tis_wall, pts_env_wall, pts_hor_wall, pts_flo_wall]

legend_lines = ["Environmental adaptation/", "stress signaling", "Carbohydrate metabolism/", "carbon allocation",
                "Cell wall biosynthesis/remodeling", "Other"]

BLUE = "#6E90AB"
GREEN = "#82A276"
TAN = "#BD9574"
BOX_BLUE = "#7F9FBB"
BOX_GREEN = "#8DB08A"
BOX_TAN = "#CFAA87"
PT_BLUE = "#48739B"
PT_GREEN = "#5A8F50"
PT_TAN = "#BC7A3A"
DARK = "#2B2B2B"
BORDER = "#333333"
GRID = "#EBEBEB"


def fx(p):
    return p / W


def fy(p):
    return 1 - p / H


def label(text, x, y, size=32, anchor="left", angle=0, bold=False):
    return dict(text="<b>%s</b>" % text if bold else text, x=fx(x), y=fy(y), xref="paper", yref="paper",
                xanchor=anchor, yanchor="middle", textangle=angle, showarrow=False,
                font=dict(family=FONT, size=size, color="black"))


def rect(x0, y0, x1, y1, fill, line=None, width=0, layer="above"):
    return dict(type="rect", xref="paper", yref="paper", x0=fx(x0), x1=fx(x1), y0=fy(y0), y1=fy(y1),
                fillcolor=fill, line=dict(color=line or fill, width=width), layer=layer)


fig = go.Figure()
layout = {}
annotations = []
shapes = [rect(307, 1286, 1092, 2316, "white", layer="below"), rect(1778, 1286, 2564, 2315, "white", layer="below")]

# panel A
for i, name in enumerate(panel_names):
    n = panel_cols[i]
    suffix = "" if i == 0 else str(i + 1)
    z = [[row.get(c, 0) for c in range(n)] for row in panel_cells[i]]
    fig.add_trace(go.Heatmap(z=z, x=list(range(n)), y=genes, coloraxis="coloraxis", xgap=1, ygap=1,
                             xaxis="x" + suffix, yaxis="y" + suffix))
    x0, x1 = panel_x[i]
    layout["xaxis" + suffix] = dict(domain=[fx(x0), fx(x1)], range=[-0.59, n - 0.41], anchor="y" + suffix,
                                    automargin=False, showgrid=False, zeroline=False, showticklabels=False, ticks="",
                                    showline=True, mirror=True, linecolor=BORDER, linewidth=2)
    y_axis = dict(domain=[fy(1166), fy(136)], range=[43.58, -0.58], type="category", anchor="x" + suffix,
                  automargin=False, showgrid=False, zeroline=False, showline=True, mirror=True, linecolor=BORDER,
                  linewidth=2, ticks="", showticklabels=False)
    if i == 0:
        y_axis.update(ticks="outside", ticklen=8, tickwidth=2, tickcolor=BORDER, showticklabels=True,
                      tickmode="array", tickvals=genes, ticktext=genes, ticklabelstandoff=-6,
                      tickfont=dict(family=FONT, size=32, color="black"))
    layout["yaxis" + suffix] = y_axis
    shapes.append(rect(x0, 90, x1, 135, "#F5F5F5", "#CCCCCC", 2))
    annotations.append(label(name, strip_label_x[i], 111, anchor="center"))

# panel B
for values, color, name in [(bar_wall, TAN, "wall"), (bar_carb, GREEN, "carb"), (bar_env, BLUE, "env")]:
    fig.add_trace(go.Bar(x=bar_categories, y=values, name=name, marker=dict(color=color, line=dict(color="white", width=2)),
                         width=0.7, xaxis="x6", yaxis="y6"))
layout["xaxis6"] = dict(domain=[fx(307), fx(1092)], range=[-0.6, 5.6], anchor="y6", type="category", automargin=False,
                        categoryorder="array", categoryarray=bar_categories, showgrid=True, gridcolor=GRID, gridwidth=2,
                        showline=True, mirror=True, linecolor=BORDER, linewidth=2, ticks="outside", ticklen=9, tickwidth=2,
                        tickcolor=BORDER, tickangle=-30, ticklabelstandoff=-8,
                        tickfont=dict(family=FONT, size=32, color="black"))
layout["yaxis6"] = dict(domain=[fy(2316), fy(1286)], range=[-1.32, 28.3], anchor="x6", tickvals=[0, 10, 20], automargin=False,
                        showgrid=True, gridcolor=GRID, gridwidth=2, zeroline=False, showline=True, mirror=True,
                        linecolor=BORDER, linewidth=2, ticks="outside", ticklen=8, tickwidth=2, tickcolor=BORDER,
                        tickfont=dict(family=FONT, size=32, color="black"))

# panel C
groups = [(q3_env, med_env, up_env, pts_env, BOX_BLUE, PT_BLUE, -0.225),
          (q3_carb, med_carb, up_carb, pts_carb, BOX_GREEN, PT_GREEN, 0),
          (q3_wall, med_wall, up_wall, pts_wall, BOX_TAN, PT_TAN, 0.225)]
BOX_W = 0.208
for q3, med, up, pts, fill, pt, off in groups:
    xs = [i + off for i in range(len(box_categories))]
    fig.add_trace(go.Box(x=xs, q1=[0] * len(xs), median=med, q3=q3, lowerfence=[0] * len(xs), upperfence=up,
                         width=BOX_W, whiskerwidth=0, fillcolor=fill, line=dict(color=DARK, width=3.5),
                         xaxis="x7", yaxis="y7", boxpoints=False))
    mx, my = [], []
    for x, m in zip(xs, med):
        mx += [x - BOX_W / 2, x + BOX_W / 2, None]
        my += [m, m, None]
    fig.add_trace(go.Scatter(x=mx, y=my, mode="lines", line=dict(color=DARK, width=7), xaxis="x7", yaxis="y7"))
    px_, py_ = [], []
    for x, group in zip(xs, pts):
        px_ += [x + j / 100 for j, v in group]
        py_ += [v for j, v in group]
    fig.add_trace(go.Scatter(x=px_, y=py_, mode="markers", marker=dict(color=pt, size=10, opacity=0.27, line=dict(width=0)),
                             xaxis="x7", yaxis="y7"))
layout["xaxis7"] = dict(domain=[fx(1778), fx(2564)], range=[-0.6, 4.6], anchor="y7", tickmode="array", automargin=False,
                        tickvals=list(range(5)), ticktext=box_categories, showgrid=True, gridcolor=GRID, gridwidth=2,
                        zeroline=False, showline=True, mirror=True, linecolor=BORDER, linewidth=2, ticks="outside",
                        ticklen=9, tickwidth=2, tickcolor=BORDER, tickangle=-30, ticklabelstandoff=-8,
                        tickfont=dict(family=FONT, size=32, color="black"))
layout["yaxis7"] = dict(domain=[fy(2315), fy(1286)], range=[-0.6, 13.27], anchor="x7", tickvals=[0, 5, 10], automargin=False,
                        showgrid=True, gridcolor=GRID, gridwidth=2, zeroline=False, showline=True, mirror=True,
                        linecolor=BORDER, linewidth=2, ticks="outside", ticklen=8, tickwidth=2, tickcolor=BORDER,
                        tickfont=dict(family=FONT, size=32, color="black"))

# titles
annotations += [
    label("A", 345, 40, size=50, bold=True),
    label("B", 345, 1246, size=50, bold=True),
    label("C", 1816, 1246, size=50, bold=True),
    label("Candidate genes", 35, 592, anchor="center", angle=-90),
    label("Transcriptome comparisons grouped by category", 1430, 1195, anchor="center"),
    label("Number of responsive genes", 146, 1802, anchor="center", angle=-90),
    label("|log2FC|", 1717, 1802, anchor="center", angle=-90),
    label("log2FC", 2809, 510),
    label("(capped)", 2809, 543),
]

# legend B
annotations.append(label("Functional module", 1133, 1700))
for text, y in zip(legend_lines, [1734, 1759, 1790, 1815, 1847, 1872]):
    annotations.append(label(text, 1197, y))
for color, y0, y1 in [(BLUE, 1730, 1773), (GREEN, 1777, 1821), (TAN, 1825, 1867)]:
    shapes.append(rect(1139, y0, 1181, y1, color))

# legend C
annotations.append(label("Functional module", 2612, 1701))
for text, y in zip(legend_lines, [1739, 1766, 1793, 1821, 1847, 1875]):
    annotations.append(label(text, 2660, y))
for color, top, bot, whisk0, whisk1 in [(BOX_BLUE, 1740, 1765, 1732, 1770), (BOX_GREEN, 1787, 1812, 1780, 1818),
                                        (BOX_TAN, 1834, 1858, 1827, 1865)]:
    mid = (top + bot) / 2
    shapes.append(dict(type="line", xref="paper", yref="paper", x0=fx(2632), x1=fx(2632), y0=fy(whisk0), y1=fy(whisk1),
                       line=dict(color=DARK, width=2.5), layer="above"))
    shapes.append(rect(2615, top, 2650, bot, color, DARK, 3))
    shapes.append(dict(type="line", xref="paper", yref="paper", x0=fx(2615), x1=fx(2650), y0=fy(mid), y1=fy(mid),
                       line=dict(color=DARK, width=3), layer="above"))

fig.update_layout(
    template="none",
    width=W,
    height=H,
    margin=dict(l=0, r=0, t=0, b=0),
    paper_bgcolor="white",
    plot_bgcolor="#FBFAF7",
    showlegend=False,
    barmode="stack",
    boxmode="overlay",
    annotations=annotations,
    shapes=shapes,
    font=dict(family=FONT, size=32, color="black"),
    coloraxis=dict(
        cmin=-4, cmax=4,
        colorscale=[[0, "#4A7FAB"], [0.25, "#AABBD0"], [0.5, "#F7F5F0"], [0.75, "#EBA69E"], [1, "#CD5C58"]],
        colorbar=dict(x=fx(2809), xanchor="left", xpad=0, y=fy(805), yanchor="bottom", ypad=0, lenmode="pixels", len=232,
                      thickness=46, thicknessmode="pixels", outlinewidth=0, ticks="inside", ticklen=9, tickwidth=2,
                      tickcolor="white", tickmode="array", tickvals=[-4, -2, 0, 2, 4],
                      ticktext=["-4", "-2", "0", "2", "4"],
                      tickfont=dict(family=FONT, size=32, color="black")),
    ),
    **layout,
)

fig.write_html("out.html", config={"displayModeBar": False}, post_script="document.body.style.margin='0';")
